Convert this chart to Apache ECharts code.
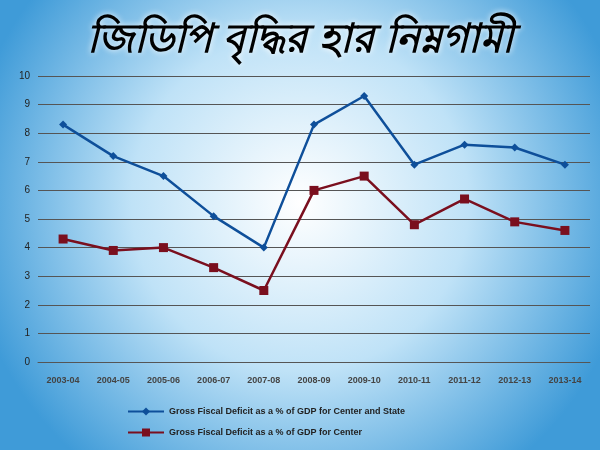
<!DOCTYPE html>
<html><head><meta charset="utf-8">
<script src="https://cdn.jsdelivr.net/npm/echarts@6/dist/echarts.min.js"></script>
<style>html,body{margin:0;padding:0}#c{width:600px;height:450px}</style>
</head><body><div id="c"></div>
<script>
const categories=['2003-04','2004-05','2005-06','2006-07','2007-08','2008-09','2009-10','2010-11','2011-12','2012-13','2013-14'];
const centerState=[8.3,7.2,6.5,5.1,4.0,8.3,9.3,6.9,7.6,7.5,6.9];
const center=[4.3,3.9,4.0,3.3,2.5,6.0,6.5,4.8,5.7,4.9,4.6];
const yTicks=[0,10,1];
const chart=echarts.init(document.getElementById('c'));
chart.setOption({
 backgroundColor:{type:'radial',x:0.5,y:0.45,r:0.75,colorStops:[{offset:0,color:'#ffffff'},{offset:0.5,color:'#bfe2f7'},{offset:1,color:'#3f9bd8'}]},
 title:{text:'জিডিপি বৃদ্ধির হার নিম্নগামী',left:'center',top:16,textStyle:{fontSize:40,fontWeight:'bold',fontStyle:'italic',color:'#000',textShadowColor:'#fff',textShadowBlur:6}},
 grid:{left:38,right:10,top:76,bottom:88},
 xAxis:{type:'category',data:categories,boundaryGap:true,axisTick:{show:false},axisLine:{lineStyle:{color:'#555'}},axisLabel:{fontSize:9,fontWeight:'bold',color:'#444',interval:0,margin:14}},
 yAxis:{type:'value',min:yTicks[0],max:yTicks[1],interval:yTicks[2],axisLabel:{fontSize:10,color:'#222'},axisLine:{show:false},splitLine:{lineStyle:{color:'#555',width:1}}},
 legend:{orient:'vertical',left:122,top:402,itemGap:12,itemWidth:36,itemHeight:10,textStyle:{fontSize:9,fontWeight:'bold',color:'#222'}},
 series:[
  {name:'Gross Fiscal Deficit as a % of GDP for Center and State',type:'line',data:centerState,symbol:'diamond',symbolSize:8,itemStyle:{color:'#0e4f9a'},lineStyle:{width:2.5,color:'#0e4f9a'}},
  {name:'Gross Fiscal Deficit as a % of GDP for Center',type:'line',data:center,symbol:'rect',symbolSize:9,itemStyle:{color:'#7a0f1e'},lineStyle:{width:2.5,color:'#7a0f1e'}}
 ]
});
</script></body></html>
